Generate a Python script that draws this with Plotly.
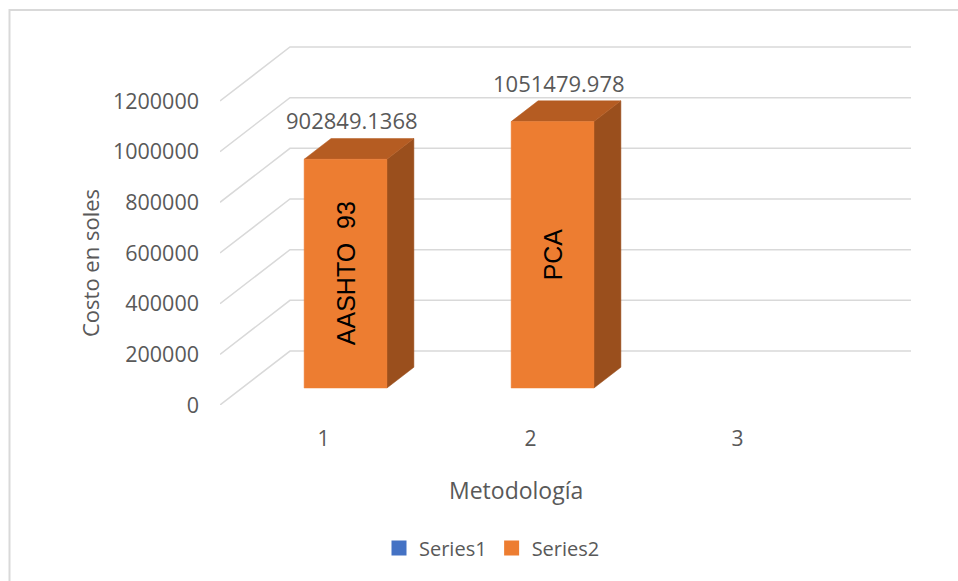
import plotly.graph_objects as go

# Data
categories = ["1", "2", "3"]
cat_pos = [1, 2, 3]
series1_values = [None, None, None]
series2_values = [902849.1368, 1051479.978, None]
bar_labels = ["AASHTO\u00a0 93", "PCA", ""]
y_ticks = [0, 200000, 400000, 600000, 800000, 1000000, 1200000]

# Oblique projection of the 3-D box (in data units)
DEPTH_X = 0.338        # full floor depth along x
DEPTH_Y = 213000       # full floor depth along y
BAR_FRONT = 0.315      # depth fraction of bar front face
BAR_BACK = 0.70        # depth fraction of bar back face
HALF_W = 0.2           # half bar width (gap width 150%)
X_MAX = 3.838
Y_MAX = 1417000

GRID = "#D9D9D9"
TEXT = "#595959"
FRONT = "#ED7D31"
TOP = "#B55C22"
SIDE = "#9A4F1D"
BLUE = "#4472C4"

fig = go.Figure()

# side wall / back wall gridlines
gx, gy = [], []
for v in y_ticks:
    gx += [0.5, 0.5 + DEPTH_X, X_MAX, None]
    gy += [v, v + DEPTH_Y, v + DEPTH_Y, None]
fig.add_trace(go.Scatter(x=gx, y=gy, mode="lines",
                         line=dict(color=GRID, width=1.5),
                         hoverinfo="skip", showlegend=False))


def face(xs, ys, color):
    fig.add_trace(go.Scatter(x=xs + [xs[0]], y=ys + [ys[0]], mode="lines",
                             fill="toself", fillcolor=color,
                             line=dict(color=color, width=0.5),
                             hoverinfo="skip", showlegend=False))


annotations = []
for c, v, lab in zip(cat_pos, series2_values, bar_labels):
    if v is None:
        continue
    fx, fy = BAR_FRONT * DEPTH_X, BAR_FRONT * DEPTH_Y
    bx, by = BAR_BACK * DEPTH_X, BAR_BACK * DEPTH_Y
    xl, xr = c - HALF_W, c + HALF_W
    # right side face
    face([xr + fx, xr + bx, xr + bx, xr + fx],
         [fy, by, v + by, v + fy], SIDE)
    # top face
    face([xl + fx, xr + fx, xr + bx, xl + bx],
         [v + fy, v + fy, v + by, v + by], TOP)
    # front face
    face([xl + fx, xr + fx, xr + fx, xl + fx],
         [fy, fy, v + fy, v + fy], FRONT)
    # category name inside the bar
    annotations.append(dict(x=c + fx, y=fy + v / 2, xref="x", yref="y",
                            text=lab, textangle=-90, showarrow=False,
                            font=dict(family="Liberation Sans, Arial", size=25, color="black"),
                            xanchor="center", yanchor="middle"))
    # value label above the bar
    annotations.append(dict(x=c + fx + 0.25 * (bx - fx), y=v + by, xref="x", yref="y",
                            text=f"{v}", showarrow=False, yshift=18,
                            font=dict(family="Open Sans", size=22, color=TEXT),
                            xanchor="center", yanchor="middle"))

# legend entries
fig.add_trace(go.Scatter(x=[None], y=[None], mode="markers", name="Series1",
                         marker=dict(symbol="square", size=15, color=BLUE)))
fig.add_trace(go.Scatter(x=[None], y=[None], mode="markers", name="Series2",
                         marker=dict(symbol="square", size=15, color=FRONT)))

L, R, T, B = 220, 47, 46, 176
W, H = 958, 581
pw, ph = W - L - R, H - T - B


def px(x):
    return (x - L) / pw


def py(y):
    return (H - B - y) / ph


annotations.append(dict(x=px(90), y=py(263), xref="paper", yref="paper",
                        text="Costo en soles", textangle=-90, showarrow=False,
                        font=dict(family="Open Sans", size=22, color=TEXT),
                        xanchor="center", yanchor="middle"))
annotations.append(dict(x=px(516), y=py(490), xref="paper", yref="paper",
                        text="Metodología", showarrow=False,
                        font=dict(family="Open Sans", size=23, color=TEXT),
                        xanchor="center", yanchor="middle"))

shapes = [dict(type="path", xref="paper", yref="paper",
               path=f"M {px(9.5)} {py(H + 5)} L {px(9.5)} {py(10)} L {px(W + 5)} {py(10)}",
               line=dict(color="#D9D9D9", width=2))]

fig.update_layout(
    width=W, height=H,
    margin=dict(l=L, r=R, t=T, b=B, pad=0),
    paper_bgcolor="white", plot_bgcolor="white",
    font=dict(family="Open Sans", size=21, color=TEXT),
    xaxis=dict(range=[0.5, X_MAX], tickvals=cat_pos, ticktext=categories,
               showgrid=False, zeroline=False, showline=False, ticks="",
               ticklabelstandoff=19, tickfont=dict(size=21, color=TEXT),
               fixedrange=True),
    yaxis=dict(range=[0, Y_MAX], tickvals=y_ticks, ticktext=[str(t) for t in y_ticks],
               showgrid=False, zeroline=False, showline=False, ticks="",
               ticklabelstandoff=20, tickfont=dict(size=21.5, color=TEXT),
               fixedrange=True),
    showlegend=True,
    legend=dict(orientation="h", x=px(492), y=py(548), xanchor="center", yanchor="middle",
                font=dict(size=20, color=TEXT), itemwidth=30, bgcolor="rgba(0,0,0,0)"),
    annotations=annotations,
    shapes=shapes,
)

fig.write_html("out.html")
